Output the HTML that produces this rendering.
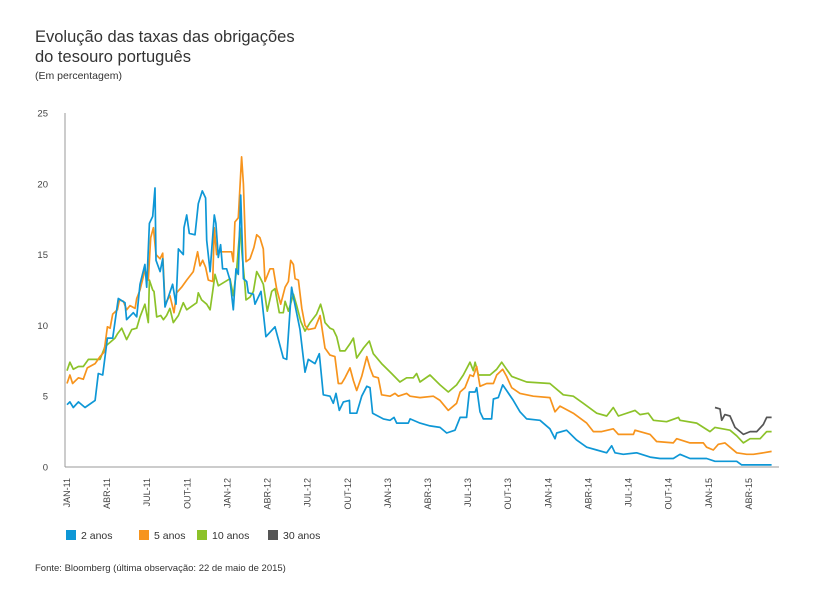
<!DOCTYPE html>
<html><head><meta charset="utf-8">
<style>
body{margin:0;background:#fff;width:827px;height:603px;overflow:hidden;font-family:"Liberation Sans",sans-serif;}
svg{position:absolute;left:0;top:0}
</style></head>
<body>
<svg id="c" width="827" height="603">
  <text x="35" y="42" font-size="16.5" fill="#333">Evolução das taxas das obrigações</text>
  <text x="35" y="62" font-size="16.5" fill="#333">do tesouro português</text>
  <text x="35" y="79" font-size="10.5" fill="#333">(Em percentagem)</text>
  <g id="yaxis"></g>
  <g id="xaxis"></g>
  <g id="series"></g>
  <g>
    <rect x="66" y="530" width="10" height="10" fill="#0e97d6"/>
    <text x="81" y="539" font-size="10.5" fill="#333">2 anos</text>
    <rect x="139" y="530" width="10" height="10" fill="#f7941d"/>
    <text x="154" y="539" font-size="10.5" fill="#333">5 anos</text>
    <rect x="197" y="530" width="10" height="10" fill="#8cc229"/>
    <text x="212" y="539" font-size="10.5" fill="#333">10 anos</text>
    <rect x="268" y="530" width="10" height="10" fill="#555"/>
    <text x="283" y="539" font-size="10.5" fill="#333">30 anos</text>
  </g>
  <text x="35" y="571" font-size="9.5" fill="#333">Fonte: Bloomberg (última observação: 22 de maio de 2015)</text>
</svg>
<script>
const yTicks=[0,5,10,15,20,25];
const xTickLabels=["JAN-11","ABR-11","JUL-11","OUT-11","JAN-12","ABR-12","JUL-12","OUT-12","JAN-13","ABR-13","JUL-13","OUT-13","JAN-14","ABR-14","JUL-14","OUT-14","JAN-15","ABR-15"];
const xTickMonths=[0,3,6,9,12,15,18,21,24,27,30,33,36,39,42,45,48,51];

const m2=[0,0.22,0.47,0.85,1.35,2.1,2.34,2.67,3.02,3.42,3.84,4.34,4.46,4.96,5.21,5.46,5.83,5.96,6.16,6.41,6.58,6.66,6.96,7.16,7.33,7.9,8.15,8.33,8.7,8.75,8.95,9.15,9.57,9.82,10.12,10.37,10.45,10.7,11.02,11.14,11.32,11.49,11.64,11.94,12.19,12.44,12.64,12.81,12.99,13.19,13.44,13.56,13.94,14.06,14.51,14.88,15.56,16.18,16.43,16.8,16.93,17.43,17.8,18.05,18.55,18.87,19.17,19.67,19.92,20.12,20.37,20.67,21.12,21.17,21.67,22.04,22.42,22.66,22.86,23.66,24.16,24.46,24.66,25.53,25.66,26.4,27.15,27.9,28.4,29.02,29.4,29.89,30.09,30.52,30.64,30.89,31.14,31.76,31.89,32.26,32.59,32.88,33.38,33.88,34.38,35.38,36.12,36.5,36.63,37.37,38.12,38.87,39.62,40.37,40.74,40.99,41.61,42.61,43.61,44.35,45.35,45.85,46.6,47.84,48.47,50.09,50.46,51.34,52.7];
const v2=[4.4,4.6,4.2,4.6,4.2,4.7,6.6,6.5,9.1,9.1,11.9,11.6,10.4,10.9,10.6,12.9,14.3,12.7,17.2,17.7,19.7,14.6,13.8,14.7,11.3,12.9,11.5,15.4,15.0,16.9,17.8,16.5,16.4,18.6,19.5,19.0,16.0,13.8,17.8,17.2,14.8,15.7,14.0,14.0,13.2,11.1,14.0,13.6,19.2,13.3,13.1,12.3,12.2,11.5,12.4,9.2,9.9,7.7,7.6,12.7,12.0,9.7,6.7,7.6,7.3,8.0,5.1,5.0,4.5,5.2,4.0,4.6,4.7,3.8,3.8,5.0,5.7,5.6,3.8,3.4,3.3,3.5,3.1,3.1,3.4,3.1,2.9,2.8,2.4,2.6,3.5,3.5,5.3,5.3,5.6,3.9,3.4,3.4,4.8,4.9,5.8,5.4,4.7,3.9,3.4,3.3,2.7,2.0,2.4,2.6,1.9,1.4,1.2,1.0,1.5,1.0,0.9,1.0,0.7,0.6,0.6,0.9,0.6,0.6,0.4,0.4,0.15,0.15,0.15];

const m5=[0,0.22,0.42,0.85,1.22,1.52,2.1,2.47,2.77,3.02,3.22,3.42,3.77,3.92,4.22,4.46,4.71,5.09,5.21,5.46,5.83,6.08,6.26,6.46,6.66,6.96,7.16,7.33,7.7,8.0,8.2,8.57,8.95,9.45,9.77,9.95,10.15,10.37,10.57,10.9,11.02,11.19,11.44,11.94,12.31,12.44,12.56,12.81,13.06,13.19,13.39,13.69,13.98,14.19,14.43,14.68,14.81,15.18,15.43,15.68,15.98,16.31,16.56,16.73,16.93,17.06,17.31,17.56,17.8,18.05,18.55,18.93,19.3,19.67,20.04,20.29,20.54,20.79,21.17,21.42,21.67,22.04,22.42,22.66,22.91,23.28,23.53,24.16,24.53,24.78,25.4,25.66,26.4,27.4,27.9,28.52,29.14,29.4,29.77,30.14,30.39,30.64,30.89,31.39,31.89,32.14,32.59,32.88,33.26,33.88,34.88,36.12,36.5,36.87,37.87,38.87,39.37,39.99,40.86,41.24,42.36,42.48,43.61,44.1,45.35,45.6,46.6,47.59,47.84,48.34,48.71,49.21,49.59,50.09,50.84,51.34,52.08,52.7];
const v5=[5.9,6.5,5.9,6.3,6.2,7.0,7.3,7.8,8.1,9.9,9.8,10.8,11.1,11.8,11.7,11.1,11.4,11.2,11.9,12.5,13.9,13.2,16.2,16.9,15.0,14.7,15.1,11.5,12.1,10.9,12.3,12.7,13.2,13.8,15.2,14.2,14.6,14.1,13.2,13.1,16.9,15.0,15.2,15.2,15.2,14.5,17.3,17.6,21.9,20.0,14.5,14.7,15.5,16.4,16.2,15.4,13.1,14.0,14.0,12.6,11.5,12.7,13.1,14.6,14.3,13.3,13.2,11.2,10.0,9.7,9.8,10.7,8.4,7.9,7.8,5.9,5.9,6.3,7.0,6.1,5.4,6.4,7.8,7.0,6.4,6.3,5.1,5.0,5.2,5.0,5.2,5.0,4.9,5.0,4.7,4.0,4.5,5.3,5.6,6.5,6.4,7.1,5.7,5.9,5.9,6.5,6.9,6.4,5.6,5.2,5.0,4.9,3.9,4.3,3.8,3.1,2.5,2.5,2.7,2.3,2.3,2.6,2.3,1.8,1.7,2.0,1.7,1.7,1.4,1.2,1.6,1.7,1.4,1.0,0.9,0.9,1.0,1.1];

const m10=[0,0.22,0.47,0.85,1.22,1.6,2.47,2.84,3.22,3.59,3.77,4.09,4.46,4.84,5.21,5.46,5.83,6.08,6.16,6.41,6.51,6.71,7.01,7.21,7.45,7.7,7.95,8.33,8.7,8.95,9.7,9.82,10.07,10.45,10.7,10.9,11.07,11.32,12.19,12.44,12.69,12.94,13.09,13.31,13.39,13.69,13.94,14.19,14.43,14.68,14.98,15.31,15.56,15.88,16.18,16.31,16.56,16.93,17.18,17.48,17.8,18.18,18.67,18.97,19.17,19.3,19.67,19.92,20.17,20.42,20.79,21.17,21.42,21.67,22.17,22.61,22.91,23.53,24.28,24.9,25.4,25.9,26.15,26.4,27.15,27.9,28.52,29.14,29.64,30.14,30.39,30.52,30.77,31.64,32.14,32.51,32.88,33.26,34.38,36.12,37.12,37.87,38.62,39.62,40.37,40.86,41.24,42.48,42.86,43.48,43.86,44.85,45.73,45.85,47.1,48.09,48.47,49.59,50.09,50.59,51.09,51.84,52.33,52.7];
const v10=[6.8,7.4,6.9,7.1,7.1,7.6,7.6,8.5,8.8,9.1,9.4,9.8,9.0,9.7,9.8,10.6,11.5,10.2,13.2,12.5,12.4,10.6,10.7,10.4,10.7,11.2,10.2,10.7,11.6,11.1,11.6,12.3,11.8,11.5,11.1,12.4,13.6,12.8,13.3,12.1,14.0,16.9,15.1,12.8,11.8,12.0,12.4,13.8,13.4,12.9,11.0,12.4,12.6,10.9,10.9,11.7,11.0,12.2,11.4,10.3,9.6,10.2,10.8,11.5,10.8,10.2,9.8,9.7,9.2,8.2,8.2,8.7,9.1,7.7,8.4,8.9,8.0,7.3,6.6,6.0,6.3,6.3,6.6,6.0,6.5,5.8,5.3,5.8,6.5,7.4,6.8,7.4,6.5,6.5,6.9,7.4,6.9,6.4,6.0,5.9,5.1,5.0,4.5,3.8,3.6,4.2,3.6,4.0,3.7,3.8,3.3,3.2,3.5,3.3,3.1,2.5,2.8,2.6,2.2,1.7,2.0,2.0,2.5,2.5];

const m30=[48.47,48.84,48.97,49.21,49.59,49.96,50.59,51.09,51.59,52.08,52.33,52.7];
const v30=[4.2,4.1,3.3,3.7,3.6,2.8,2.3,2.5,2.5,3.0,3.5,3.5];

const X0=67, PXM=13.37, Y0=467, PXV=14.16;
const xs=m=>X0+m*PXM;
const ys=v=>Y0-v*PXV;
const NS="http://www.w3.org/2000/svg";
function mk(tag,attrs,parent){const e=document.createElementNS(NS,tag);for(const k in attrs)e.setAttribute(k,attrs[k]);parent.appendChild(e);return e;}

const ya=document.getElementById('yaxis');
const yl=mk('line',{x1:65,y1:ys(25),x2:65,y2:Y0,stroke:'#999','stroke-width':1},ya);


yTicks.forEach(t=>{
  const tx=mk('text',{x:48,y:ys(t)+3.5,'font-size':9.5,fill:'#444','text-anchor':'end'},ya);
  tx.textContent=t;
  
  
});
const xa=document.getElementById('xaxis');
const xl=mk('line',{x1:65,y1:Y0,x2:779,y2:Y0,stroke:'#999','stroke-width':1},xa);


xTickLabels.forEach((lab,i)=>{
  const x=xs(xTickMonths[i])+3;
  const tx=mk('text',{x:0,y:0,'font-size':9,fill:'#444','text-anchor':'end',transform:`translate(${x},478) rotate(-90)`},xa);
  tx.textContent=lab;
  
  
});
const sg=document.getElementById('series');
function line(ms,vs,color,name){
  const d=ms.map((m,i)=>(i?'L':'M')+xs(m).toFixed(1)+','+ys(vs[i]).toFixed(1)).join('');
  const p=mk('path',{d:d,fill:'none',stroke:color,'stroke-width':1.7,'stroke-linejoin':'round'},sg);
  
  
}
line(m10,v10,'#8cc229','line-10-anos');
line(m5,v5,'#f7941d','line-5-anos');
line(m2,v2,'#0e97d6','line-2-anos');
line(m30,v30,'#555','line-30-anos');
</script>
</body></html>
